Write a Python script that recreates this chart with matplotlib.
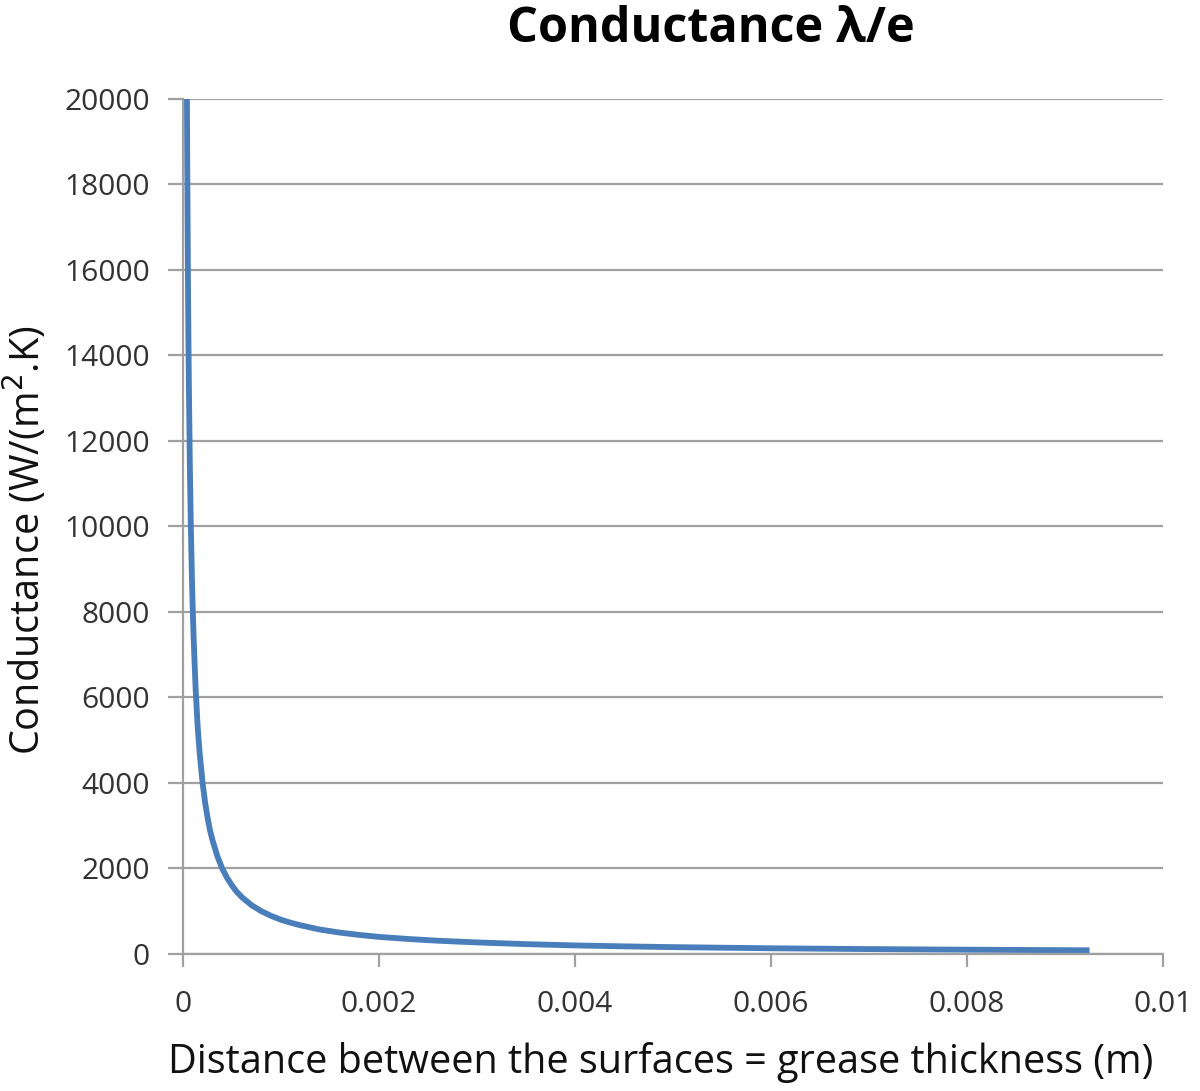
import matplotlib
matplotlib.use("Agg")
import matplotlib.pyplot as plt

# Grease thickness e (m) and conductance lambda/e (W/(m2.K))
thickness = [0.00004, 0.000045, 0.00005, 0.000055, 0.00006, 0.00007, 0.00008, 0.00009,
             0.0001, 0.00011, 0.00012, 0.00013, 0.00015, 0.00017, 0.0002, 0.000225,
             0.00025, 0.000275, 0.0003, 0.00035, 0.0004, 0.00045, 0.0005, 0.00055,
             0.0006, 0.0007, 0.0008, 0.0009, 0.001, 0.0011, 0.0012, 0.0014, 0.0016,
             0.0018, 0.002, 0.0023, 0.0026, 0.003, 0.0035, 0.004, 0.0045, 0.005,
             0.006, 0.007, 0.008, 0.00925]
conductance = [20000, 17800, 16000, 14500, 13300, 11400, 10000, 8900,
               8000, 7300, 6700, 6150, 5300, 4700, 4000, 3550,
               3200, 2900, 2670, 2290, 2000, 1780, 1600, 1450,
               1330, 1140, 1000, 890, 800, 730, 670, 570, 500,
               445, 400, 350, 310, 270, 230, 200, 178, 160,
               133, 114, 100, 86]

y_ticks = [0, 2000, 4000, 6000, 8000, 10000, 12000, 14000, 16000, 18000, 20000]
x_ticks = [0, 0.002, 0.004, 0.006, 0.008, 0.01]
x_tick_labels = ["0", "0.002", "0.004", "0.006", "0.008", "0.01"]

plt.rcParams['font.family'] = ['Open Sans', 'DejaVu Sans']

fig = plt.figure(figsize=(12, 10.91), dpi=100)
ax = fig.add_axes([0.1525, 0.1256, 0.8167, 0.7837])

ax.plot(thickness, conductance, color="#4A7EBB", linewidth=4.2,
        solid_capstyle="butt", solid_joinstyle="round")

ax.set_xlim(0, 0.01)
ax.set_ylim(0, 20000)
ax.set_yticks(y_ticks)
ax.set_yticklabels([str(v) for v in y_ticks])
ax.set_xticks(x_ticks)
ax.set_xticklabels(x_tick_labels)

ax.grid(axis="y", color="#A0A0A0", linewidth=1.6)
ax.set_axisbelow(True)
for s in ["top", "right"]:
    ax.spines[s].set_visible(False)
for s in ["left", "bottom"]:
    ax.spines[s].set_color("#A0A0A0")
    ax.spines[s].set_linewidth(1.6)

ax.tick_params(axis="y", direction="out", length=11, width=1.6, color="#A0A0A0",
               labelsize=21.5, labelcolor="#333333", pad=13)
ax.tick_params(axis="x", direction="out", length=9, width=1.6, color="#A0A0A0",
               labelsize=21.5, labelcolor="#333333", pad=17)

ax.set_ylabel("Conductance (W/(m$^2$.K)", fontsize=28.5, color="#111111")
ax.set_xlabel("Distance between the surfaces = grease thickness (m)", fontsize=28.5,
              color="#111111")
ax.yaxis.set_label_coords(-0.136, 0.484)
ax.xaxis.set_label_coords(0.487, -0.103)
fig.text(0.592, 0.973, "Conductance λ/e", ha="center", va="center",
         fontsize=35, fontweight="bold", color="#000000")

fig.savefig("out.png", dpi=100)
